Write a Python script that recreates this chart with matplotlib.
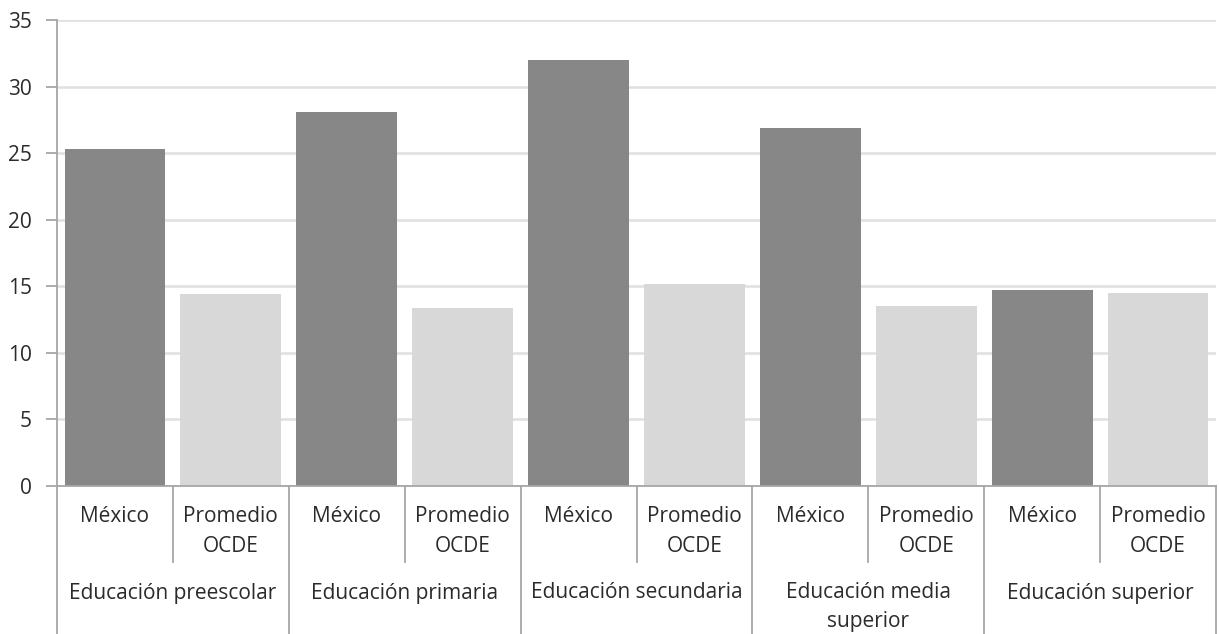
import matplotlib
matplotlib.use("Agg")
import matplotlib.pyplot as plt

# data
groups = ["Educación preescolar", "Educación primaria", "Educación secundaria",
          "Educación media\nsuperior", "Educación superior"]
series = ["México", "Promedio\nOCDE"]
mexico = [25.3, 28.1, 32.0, 26.9, 14.7]
ocde = [14.4, 13.4, 15.2, 13.5, 14.5]

dark = "#878787"
light = "#d8d8d8"
axis_col = "#a6a6a6"
text_col = "#2b2b2b"
fs = 15

plt.rcParams['font.family'] = ['Open Sans', 'DejaVu Sans']

W, H = 1219, 634
fig = plt.figure(figsize=(W / 100, H / 100), dpi=100)
# axes box in pixels: left 57, right 1216, top 20 (35), bottom 486 (0)
left, right, top, bottom = 57, 1216, 20, 486
ax = fig.add_axes([left / W, 1 - bottom / H, (right - left) / W, (bottom - top) / H])

# interleave the two series so each group has México then OCDE
vals, cols, labels = [], [], []
for m, o in zip(mexico, ocde):
    vals += [m, o]
    cols += [dark, light]
    labels += series
xs = list(range(len(vals)))

ax.bar(xs, vals, width=0.87, color=cols, zorder=2)

ax.set_xlim(-0.5, len(vals) - 0.5)
ax.set_ylim(0, 35)
ax.set_yticks(range(0, 36, 5))
ax.yaxis.grid(True, color="#e0e0e0", linewidth=1.8, zorder=0)
ax.set_axisbelow(True)
ax.set_xticks([])
for s in ["top", "right"]:
    ax.spines[s].set_visible(False)
ax.spines["left"].set_color(axis_col)
ax.spines["bottom"].set_color(axis_col)
ax.spines["left"].set_linewidth(1.3)
ax.spines["bottom"].set_linewidth(1.3)
ax.tick_params(axis="y", length=8, width=1.3, color=axis_col, pad=10,
               labelsize=fs, labelcolor=text_col)

ax_h = bottom - top
def frac(py):
    # pixel row -> axes fraction
    return (bottom - py) / ax_h

tr = ax.get_xaxis_transform()

# series labels under each bar
for x, lab in zip(xs, labels):
    for i, line in enumerate(lab.split("\n")):
        ax.text(x, frac(517 + 29 * i), line, transform=tr, ha="center", va="center",
                fontsize=fs, color=text_col, clip_on=False)

# group labels
for g, lab in enumerate(groups):
    for i, line in enumerate(lab.split("\n")):
        ax.text(2 * g + 0.5, frac(593 + 29 * i), line, transform=tr, ha="center",
                va="center", fontsize=fs, color=text_col, clip_on=False)

# dividers: short ones inside a group, long ones between groups
for g in range(len(groups)):
    ax.plot([2 * g + 0.5] * 2, [0, frac(562)], transform=tr, color=axis_col,
            lw=1.3, clip_on=False)
for g in range(len(groups) + 1):
    ax.plot([2 * g - 0.5] * 2, [0, frac(H + 2)], transform=tr, color=axis_col,
            lw=1.3, clip_on=False)

fig.savefig("out.png", dpi=100)
